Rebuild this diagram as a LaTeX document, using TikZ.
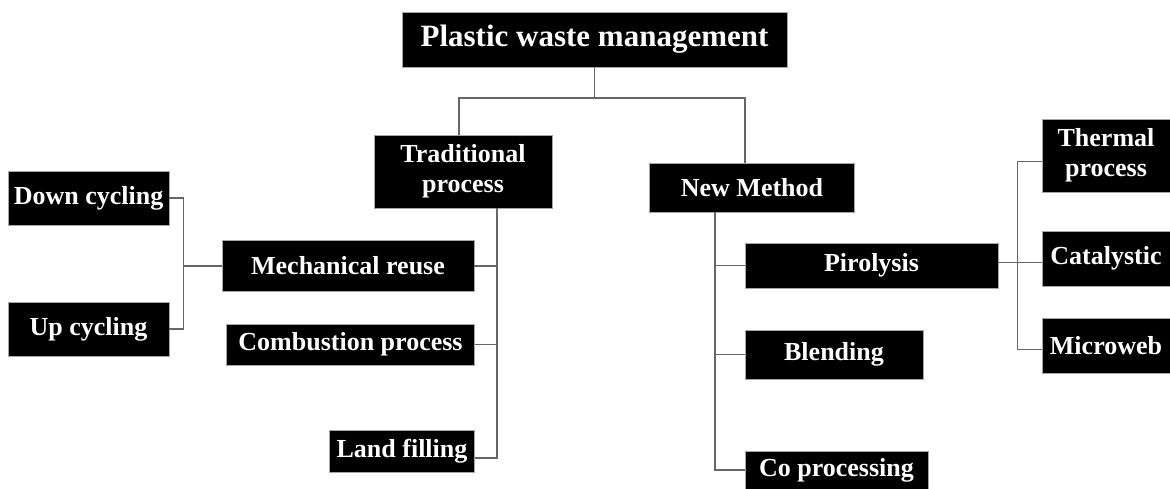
\documentclass[tikz,border=0pt]{standalone}
\usepackage{fontspec}
\setmainfont{Liberation Serif}
\usepackage{tikz}

\begin{document}
\begin{tikzpicture}[x=1pt, y=-1pt,
    box/.style={rectangle, fill=black, draw=gray!70, line width=0.8pt, text=white, align=center, inner sep=0pt,
        font=\bfseries\fontsize{26}{30}\selectfont},
    link/.style={draw=black!60, line width=1.1pt}]

            \useasboundingbox (0,0) rectangle (1170,489);

            % Root
            \node[box, minimum width=385pt, minimum height=55pt, font=\bfseries\fontsize{31}{36}\selectfont] (waste) at (594.5,39.5) {Plastic waste management};

            % Two main branches
            \node[box, minimum width=178pt, minimum height=73pt] (trad) at (463,171.5) {Traditional\\process};
            \node[box, minimum width=205pt, minimum height=49pt] (newm) at (752,187.5) {New Method};

            % Traditional process
            \node[box, minimum width=252pt, minimum height=51pt] (mech) at (348,266) {Mechanical reuse};
            \node[box, minimum width=248pt, minimum height=41pt] (comb) at (350.5,344.5) {Combustion process};
            \node[box, minimum width=145pt, minimum height=42pt] (land) at (402,451) {Land filling};
            \node[box, minimum width=161pt, minimum height=54pt] (down) at (88.5,198) {Down cycling};
            \node[box, minimum width=161pt, minimum height=54pt] (up) at (88.5,329) {Up cycling};

            % New method
            \node[box, minimum width=253pt, minimum height=45pt] (piro) at (871.5,265.5) {Pirolysis};
            \node[box, minimum width=178pt, minimum height=49pt] (blend) at (834,354.5) {Blending};
            \node[box, minimum width=183pt, minimum height=38pt] (copro) at (836.5,470) {Co processing};
            \node[box, minimum width=128pt, minimum height=73pt] (thermal) at (1106,155.5) {Thermal\\process};
            \node[box, minimum width=128pt, minimum height=55pt] (catal) at (1106,258.5) {Catalystic};
            \node[box, minimum width=128pt, minimum height=55pt] (micro) at (1106,345.5) {Microweb};

            % Bus points
            \coordinate (fork) at (594.5,98);
            \coordinate (tradbus) at ([xshift=34pt]trad.south);
            \coordinate (cyclehub) at ([xshift=-38pt]mech.west);
            \coordinate (newbus) at ([xshift=-37pt]newm.south);
            \coordinate (pirohub) at ([xshift=-24pt]catal.west);
            \coordinate (thermalin) at ([yshift=-6pt]thermal.west);
            \coordinate (microin) at ([yshift=-4pt]micro.west);
            \coordinate (piroout) at ([yshift=3pt]piro.east);

            % Connectors
            \draw[link] (waste.south) -- (fork);
            \draw[link] ([xshift=-4pt]trad.north) |- (fork) -| ([xshift=-7pt]newm.north);

            \draw[link] (tradbus) |- ([yshift=-7pt]land.east);
            \draw[link] (mech.east) -- (mech.east -| tradbus);
            \draw[link] (comb.east) -- (comb.east -| tradbus);

            \draw[link] (down.east) -| (cyclehub) |- (up.east);
            \draw[link] (cyclehub) -- (mech.west);

            \draw[link] (newbus) |- (copro.west);
            \draw[link] (newbus |- piro.west) -- (piro.west);
            \draw[link] (newbus |- blend.west) -- (blend.west);

            \draw[link] (thermalin) -| (pirohub |- microin) -- (microin);
            \draw[link] (piroout) -- (piroout -| catal.west);

        \end{tikzpicture}
\end{document}
